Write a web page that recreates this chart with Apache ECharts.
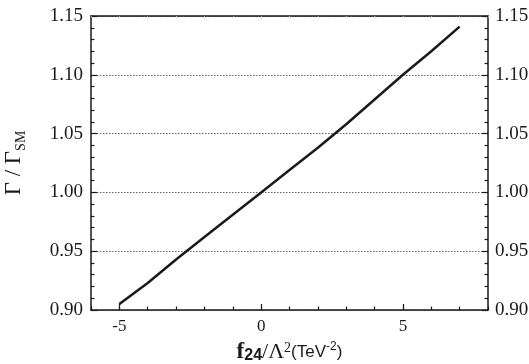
<!DOCTYPE html>
<html>
<head>
<meta charset="utf-8">
<script src="https://cdn.jsdelivr.net/npm/echarts@6/dist/echarts.min.js"></script>
<style>
  html, body { margin: 0; padding: 0; background: #fff; }
  #main { width: 529px; height: 364px; }
</style>
</head>
<body>
<div id="main"></div>
<script>
// f24 / Lambda^2 values (TeV^-2) and the width ratio
var f24 = [-5, -4, -3, -2, -1, 0, 1, 2, 3, 4, 5, 6, 7];
var ratio = [0.905, 0.923, 0.943, 0.962, 0.981, 1.000, 1.019, 1.038, 1.058, 1.079, 1.100, 1.120, 1.141];
var xLabelTicks = [-5, 0, 5];

var serif = 'Liberation Serif';
var sans = 'Liberation Sans';
var ink = '#1a1a1a';

var chart = echarts.init(document.getElementById('main'));

var option = {
  animation: false,
  grid: { left: 91, right: 41, top: 16, bottom: 54, outerBoundsMode: 'none' },
  xAxis: [
    {
      type: 'value', position: 'bottom',
      min: -6, max: 8, interval: 1,
      axisLine: { onZero: false, lineStyle: { color: ink, width: 1.5 } },
      axisTick: { inside: true, length: 3.5, lineStyle: { color: ink, width: 1.2 } },
      axisLabel: {
        customValues: xLabelTicks,
        margin: 8, color: ink, fontFamily: serif, fontSize: 17,
        formatter: function (v) { return String(v); }
      },
      splitLine: { show: false },
      name: '{b|f}{bs|24}{n|/Λ}{sup|2}{s|(TeV}{ssup|-2}{s|)}',
      nameLocation: 'middle', nameGap: 31,
      nameTextStyle: {
        rich: {
          b: { fontFamily: serif, fontWeight: 'bold', fontSize: 23, color: ink },
          bs: { fontFamily: sans, fontWeight: 'bold', fontSize: 16, color: ink, verticalAlign: 'bottom' },
          n: { fontFamily: serif, fontSize: 22, color: ink },
          sup: { fontFamily: serif, fontSize: 14, color: ink, verticalAlign: 'top' },
          s: { fontFamily: sans, fontSize: 17, color: ink },
          ssup: { fontFamily: sans, fontSize: 12, color: ink, verticalAlign: 'top' }
        }
      }
    },
    {
      // longer major ticks at the labelled positions
      type: 'value', position: 'bottom',
      min: -6, max: 8,
      axisLine: { show: false, onZero: false },
      axisTick: { inside: true, length: 6, customValues: xLabelTicks, lineStyle: { color: ink, width: 1.2 } },
      axisLabel: { show: false },
      splitLine: { show: false }
    },
    {
      type: 'value', position: 'top',
      min: -6, max: 8, interval: 1,
      axisLine: { onZero: false, lineStyle: { color: ink, width: 1.5 } },
      axisTick: { inside: true, length: 1.5, lineStyle: { color: '#aaa', width: 1 } },
      axisLabel: { show: false },
      splitLine: { show: false }
    }
  ],
  yAxis: [
    {
      type: 'value', position: 'left',
      min: 0.9, max: 1.15, interval: 0.05,
      axisLine: { onZero: false, lineStyle: { color: ink, width: 1.5 } },
      axisTick: { inside: true, length: 6, lineStyle: { color: ink, width: 1.2 } },
      minorTick: { show: true, splitNumber: 5, length: 3.5, lineStyle: { color: ink, width: 1.2 } },
      axisLabel: {
        margin: 8, color: ink, fontFamily: serif, fontSize: 19,
        formatter: function (v) { return v.toFixed(2); }
      },
      splitLine: { show: true, lineStyle: { color: '#666', width: 1, type: [1.5, 1.5] } },
      name: '{g|Γ / Γ}{sub|SM}',
      nameLocation: 'middle', nameRotate: 90, nameGap: 63,
      nameTextStyle: {
        rich: {
          g: { fontFamily: serif, fontSize: 23, color: ink, lineHeight: 28 },
          sub: { fontFamily: serif, fontSize: 14, color: ink, verticalAlign: 'bottom', lineHeight: 28 }
        }
      }
    },
    {
      type: 'value', position: 'right',
      min: 0.9, max: 1.15, interval: 0.05,
      axisLine: { onZero: false, lineStyle: { color: ink, width: 1.5 } },
      axisTick: { inside: true, length: 6, lineStyle: { color: ink, width: 1.2 } },
      minorTick: { show: true, splitNumber: 5, length: 3.5, lineStyle: { color: ink, width: 1.2 } },
      axisLabel: {
        margin: 7, color: ink, fontFamily: serif, fontSize: 19,
        formatter: function (v) { return v.toFixed(2); }
      },
      splitLine: { show: false }
    }
  ],
  series: [
    {
      type: 'line',
      xAxisIndex: 0, yAxisIndex: 0,
      data: f24.map(function (x, i) { return [x, ratio[i]]; }),
      showSymbol: false,
      lineStyle: { color: ink, width: 2.5 }
    }
  ]
};

chart.setOption(option);
</script>
</body>
</html>
